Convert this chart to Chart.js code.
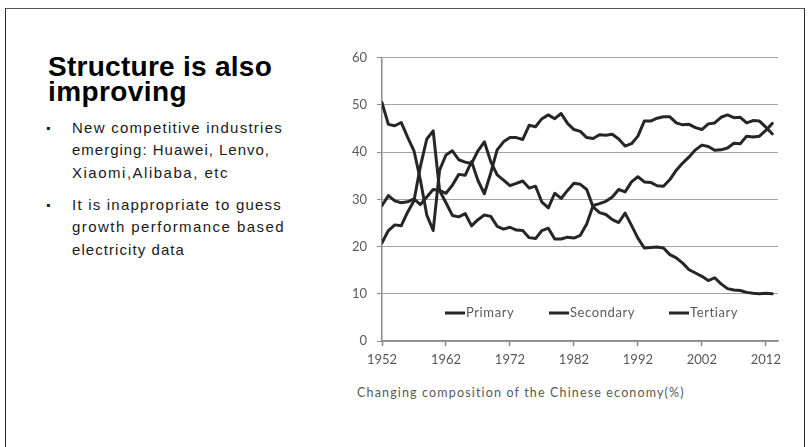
<!DOCTYPE html>
<html>
<head>
<meta charset="utf-8">
<script src="https://cdn.jsdelivr.net/npm/chart.js@4.4.1/dist/chart.umd.min.js"></script>
<style>
  html, body { margin: 0; padding: 0; background: #fff; }
  body { width: 812px; height: 447px; position: relative; overflow: hidden; }
  .frame { position: absolute; left: 5px; top: 8px; width: 800px; height: 520px;
           border: 1px solid #2b2b2b; border-top-color: #555; box-sizing: border-box; }
  .t { position: absolute; white-space: nowrap; }
  .title { font: bold 28px "Liberation Sans", Arial, sans-serif; line-height: 28px; color: #000; left: 48px; }
  .bl { font: 15px "Liberation Sans", Arial, sans-serif; line-height: 20px; color: #1a1a1a; left: 72px; }
  .dot { font: 12px "Liberation Sans", Arial, sans-serif; line-height: 20px; color: #1a1a1a; left: 46px; }
  .cap { font: 12.5px Lato, "Liberation Sans", sans-serif; line-height: 16px; color: #595959; left: 357px; top: 385px; }
  #wrap { position: absolute; left: 330px; top: 40px; width: 460px; height: 340px; }
</style>
</head>
<body>
<div class="frame"></div>

<div class="t title" style="top:53px" data-w="224">Structure is also</div>
<div class="t title" style="top:78px" data-w="139">improving</div>

<div class="t dot" style="top:118px">&#9642;</div>
<div class="t bl" style="top:118px" data-w="211">New competitive industries</div>
<div class="t bl" style="top:140px" data-w="198">emerging: Huawei, Lenvo,</div>
<div class="t bl" style="top:163px" data-w="157">Xiaomi,Alibaba, etc</div>
<div class="t dot" style="top:195px">&#9642;</div>
<div class="t bl" style="top:195px" data-w="210">It is inappropriate to guess</div>
<div class="t bl" style="top:217px" data-w="213">growth performance based</div>
<div class="t bl" style="top:240px" data-w="113">electricity data</div>

<div class="t cap" data-w="328">Changing composition of the Chinese economy(%)</div>

<div id="wrap"><canvas id="c" width="460" height="340"></canvas></div>

<script>
// Share of GDP by sector, China, 1952-2013 (%)
const years = [
  1952, 1953, 1954, 1955, 1956, 1957, 1958, 1959, 1960, 1961,
  1962, 1963, 1964, 1965, 1966, 1967, 1968, 1969, 1970, 1971,
  1972, 1973, 1974, 1975, 1976, 1977, 1978, 1979, 1980, 1981,
  1982, 1983, 1984, 1985, 1986, 1987, 1988, 1989, 1990, 1991,
  1992, 1993, 1994, 1995, 1996, 1997, 1998, 1999, 2000, 2001,
  2002, 2003, 2004, 2005, 2006, 2007, 2008, 2009, 2010, 2011,
  2012, 2013
];
const primary = [
  50.5, 45.9, 45.6, 46.3, 43.2, 40.3, 34.1, 26.7, 23.4, 36.2,
  39.4, 40.3, 38.4, 37.9, 37.6, 40.3, 42.2, 38.0, 35.2, 34.1,
  32.9, 33.4, 33.9, 32.4, 32.8, 29.4, 28.2, 31.3, 30.2, 31.9,
  33.4, 33.2, 32.1, 28.4, 27.2, 26.8, 25.7, 25.1, 27.1, 24.5,
  21.8, 19.7, 19.8, 19.9, 19.7, 18.3, 17.6, 16.5, 15.1, 14.4,
  13.7, 12.8, 13.4, 12.1, 11.1, 10.8, 10.7, 10.3, 10.1, 10.0,
  10.1, 10.0
];
const secondary = [
  20.8, 23.4, 24.6, 24.4, 27.3, 29.7, 37.0, 42.8, 44.5, 31.9,
  31.3, 33.0, 35.3, 35.1, 38.0, 34.0, 31.2, 35.6, 40.5, 42.2,
  43.1, 43.1, 42.7, 45.7, 45.4, 47.1, 47.9, 47.1, 48.2, 46.1,
  44.8, 44.4, 43.1, 42.9, 43.7, 43.6, 43.8, 42.8, 41.3, 41.8,
  43.4, 46.6, 46.6, 47.2, 47.5, 47.5, 46.2, 45.8, 45.9, 45.2,
  44.8, 46.0, 46.2, 47.4, 47.9, 47.3, 47.4, 46.2, 46.7, 46.6,
  45.3, 43.9
];
const tertiary = [
  28.7, 30.8, 29.7, 29.3, 29.5, 30.1, 28.9, 30.5, 32.1, 31.9,
  29.3, 26.6, 26.3, 27.0, 24.4, 25.7, 26.7, 26.4, 24.3, 23.7,
  24.1, 23.5, 23.4, 21.9, 21.7, 23.4, 23.9, 21.6, 21.6, 22.0,
  21.8, 22.4, 24.8, 28.7, 29.1, 29.6, 30.5, 32.1, 31.6, 33.7,
  34.8, 33.7, 33.6, 32.9, 32.8, 34.2, 36.2, 37.7, 39.0, 40.5,
  41.5, 41.2, 40.4, 40.5, 40.9, 41.9, 41.8, 43.4, 43.2, 43.4,
  44.6, 46.1
];
const seriesNames = ['Primary', 'Secondary', 'Tertiary'];
const xTickYears = [1952, 1962, 1972, 1982, 1992, 2002, 2012];
const yTicks = [0, 10, 20, 30, 40, 50, 60];

// stretch each text line to its set width via letter spacing
document.querySelectorAll('[data-w]').forEach(el => {
  el.style.letterSpacing = '0px';
  const w = el.getBoundingClientRect().width;
  const n = el.textContent.length;
  el.style.letterSpacing = ((+el.dataset.w - w) / n) + 'px';
});

const lineColor = '#262626';
const labelColor = '#595959';
const labelFont = { family: 'Lato, "Liberation Sans", sans-serif', size: 13 };

const toPoints = arr => years.map((yr, i) => ({ x: yr, y: arr[i] }));

// legend drawn inside the plot, just above the zero line
const innerLegend = {
  id: 'innerLegend',
  afterDatasetsDraw(chart) {
    const { ctx, chartArea } = chart;
    const offsets = [63, 167, 287];
    const y = chartArea.bottom - 28;
    ctx.save();
    ctx.font = '13px Lato, "Liberation Sans", sans-serif';
    if ('letterSpacing' in ctx) ctx.letterSpacing = '0.6px';
    ctx.textBaseline = 'middle';
    ctx.textAlign = 'left';
    chart.data.datasets.forEach((ds, i) => {
      const x0 = chartArea.left + offsets[i];
      ctx.strokeStyle = lineColor;
      ctx.lineWidth = 3;
      ctx.beginPath();
      ctx.moveTo(x0, y);
      ctx.lineTo(x0 + 20, y);
      ctx.stroke();
      ctx.fillStyle = labelColor;
      ctx.fillText(ds.label, x0 + 21, y);
    });
    ctx.restore();
  }
};

new Chart(document.getElementById('c'), {
  type: 'line',
  data: {
    datasets: [primary, secondary, tertiary].map((arr, i) => ({
      label: seriesNames[i],
      data: toPoints(arr),
      borderColor: lineColor,
      borderWidth: 3,
      pointRadius: 0,
      tension: 0,
      fill: false,
      borderJoinStyle: 'round',
      borderCapStyle: 'round'
    }))
  },
  options: {
    responsive: false,
    animation: false,
    devicePixelRatio: 1,
    layout: { padding: { top: 16, right: 12, left: 0, bottom: 0 } },
    plugins: { legend: { display: false }, tooltip: { enabled: false } },
    scales: {
      x: {
        type: 'linear',
        min: 1952,
        max: 2013.9,
        afterBuildTicks: s => { s.ticks = xTickYears.map(v => ({ value: v })); },
        afterFit: s => { s.height = 39; },
        ticks: {
          autoSkip: false, maxRotation: 0, padding: 6,
          color: labelColor, font: labelFont,
          callback: v => String(v)
        },
        grid: { drawOnChartArea: false, drawTicks: true, tickLength: 5, tickColor: '#8c8c8c', tickWidth: 1.5 },
        border: { color: '#8c8c8c', width: 1.5 }
      },
      y: {
        min: 0,
        max: 60,
        afterBuildTicks: s => { s.ticks = yTicks.map(v => ({ value: v })); },
        afterFit: s => { s.width = 52; },
        ticks: { padding: 10, color: labelColor, font: labelFont },
        grid: { color: '#a3a3a3', lineWidth: 1, tickLength: 5, tickColor: '#8c8c8c' },
        border: { color: '#8c8c8c', width: 1.5 }
      }
    }
  },
  plugins: [innerLegend]
});
</script>
</body>
</html>
